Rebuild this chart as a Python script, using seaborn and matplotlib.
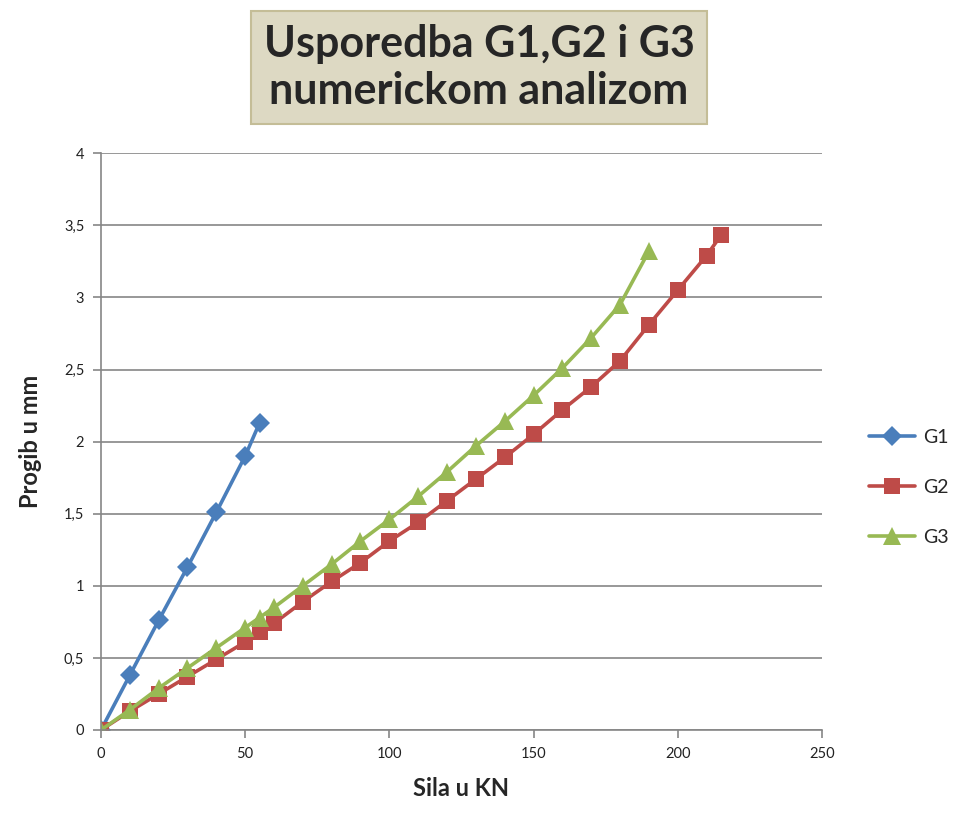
import numpy as np
import pandas as pd
import matplotlib
matplotlib.use("Agg")
import matplotlib.pyplot as plt
import seaborn as sns
from matplotlib.ticker import FuncFormatter, MultipleLocator

# Force in kN and deflection in mm
g1_x = [0, 10, 20, 30, 40, 50, 55]
g1_y = [0, 0.38, 0.76, 1.13, 1.51, 1.90, 2.13]

g2_x = [0, 10, 20, 30, 40, 50, 55, 60, 70, 80, 90, 100, 110, 120, 130, 140,
        150, 160, 170, 180, 190, 200, 210, 215]
g2_y = [0, 0.13, 0.25, 0.37, 0.49, 0.61, 0.68, 0.74, 0.89, 1.03, 1.16, 1.31,
        1.44, 1.59, 1.74, 1.89, 2.05, 2.22, 2.38, 2.56, 2.81, 3.05, 3.29, 3.43]

g3_x = [0, 10, 20, 30, 40, 50, 55, 60, 70, 80, 90, 100, 110, 120, 130, 140,
        150, 160, 170, 180, 190]
g3_y = [0, 0.14, 0.29, 0.43, 0.57, 0.71, 0.78, 0.85, 1.00, 1.15, 1.31, 1.46,
        1.62, 1.79, 1.97, 2.14, 2.32, 2.51, 2.72, 2.95, 3.32]

series = [
    ("G1", g1_x, g1_y, "#4a7ebb", "D", 10),
    ("G2", g2_x, g2_y, "#be4b48", "s", 11),
    ("G3", g3_x, g3_y, "#98b954", "^", 13),
]

sns.set_theme(style="white")
plt.rcParams["font.family"] = ["Lato", "DejaVu Sans"]

fig = plt.figure(figsize=(9.59, 8.15), dpi=100)
ax = fig.add_axes([0.1053, 0.1043, 0.7517, 0.7077])

for name, xs, ys, color, marker, ms in series:
    df = pd.DataFrame({"Sila": xs, "Progib": ys})
    sns.lineplot(data=df, x="Sila", y="Progib", ax=ax, color=color,
                 marker=marker, markersize=ms, markeredgewidth=0,
                 linewidth=2.6, label=name, sort=False)

ax.set_xlim(0, 250)
ax.set_ylim(0, 4)
ax.xaxis.set_major_locator(MultipleLocator(50))
ax.yaxis.set_major_locator(MultipleLocator(0.5))
comma = FuncFormatter(lambda v, p: f"{v:g}".replace(".", ","))
ax.yaxis.set_major_formatter(comma)
ax.xaxis.set_major_formatter(comma)

ax.grid(axis="y", color="#868686", linewidth=1.2)
ax.grid(axis="x", visible=False)
for s in ["top", "right"]:
    ax.spines[s].set_visible(False)
for s in ["left", "bottom"]:
    ax.spines[s].set_color("#868686")
    ax.spines[s].set_linewidth(1.2)
ax.tick_params(axis="both", direction="out", length=6, width=1.2,
               color="#868686", labelsize=10.5, labelcolor="#222222",
               left=True, bottom=True, pad=6)

ax.set_xlabel("Sila u KN", fontsize=17, fontweight="bold", labelpad=12)
ax.set_ylabel("Progib u mm", fontsize=17, fontweight="bold", labelpad=16)

ax.legend(loc="center left", bbox_to_anchor=(1.065, 0.42), frameon=False,
          fontsize=14, handlelength=2.4, labelspacing=1.7,
          borderpad=0, borderaxespad=0, handletextpad=0.4)

fig.text(0.4995, 0.917, "Usporedba G1,G2 i G3\nnumerickom analizom",
         ha="center", va="center", fontsize=31, fontweight="bold",
         linespacing=1.2,
         bbox=dict(boxstyle="square,pad=0.3", fc="#ddd9c3", ec="#c4bd97",
                   lw=1.5))

fig.savefig("out.png", dpi=100)
